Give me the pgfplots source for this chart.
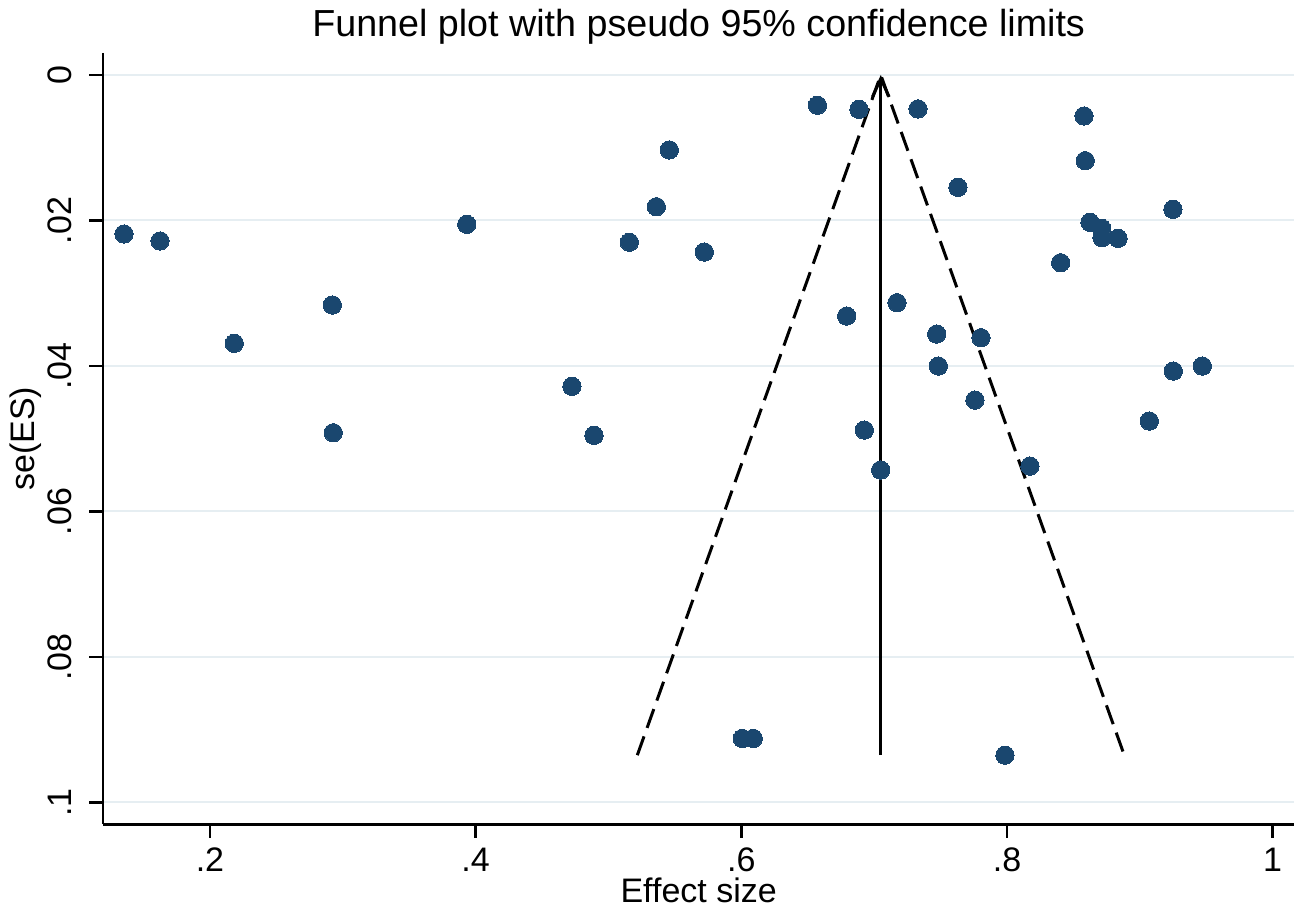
\documentclass[border=0pt]{standalone}
\usepackage{fontspec}
\setmainfont{Liberation Sans}
\usepackage{pgfplots}
\usepackage{pgfplotstable}
\pgfplotsset{compat=1.18}
\usetikzlibrary{arrows.meta}
\definecolor{statanavy}{RGB}{26,71,111}
\definecolor{gridc}{RGB}{230,238,242}

\pgfplotstableread{
x y
0.1353 0.02186
0.1624 0.02282
0.2183 0.03689
0.2921 0.03162
0.2928 0.04918
0.3933 0.02053
0.4725 0.04280
0.4891 0.04954
0.5157 0.02300
0.5360 0.01811
0.5458 0.01031
0.5721 0.02434
0.6007 0.09120
0.6090 0.09120
0.6573 0.00417
0.6793 0.03314
0.6886 0.00472
0.6926 0.04881
0.7049 0.05431
0.7172 0.03131
0.7330 0.00467
0.7471 0.03561
0.7483 0.04001
0.7631 0.01544
0.7759 0.04469
0.7804 0.03612
0.7985 0.09350
0.8173 0.05376
0.8404 0.02581
0.8580 0.00564
0.8589 0.01178
0.8625 0.02025
0.8713 0.02108
0.8715 0.02237
0.8836 0.02245
0.9249 0.01847
0.9252 0.04070
0.9470 0.04001
0.9071 0.04757
}\studies

\begin{document}
\begin{tikzpicture}
\path[use as bounding box] (-30.9pt,-27.51pt) rectangle (358.8pt,247.29pt);
\begin{axis}[
  at={(0,0)}, anchor=south west,
  scale only axis, width=357.39pt, height=231.39pt,
  xmin=0.11947, xmax=1.0163, ymin=-0.00302, ymax=0.1030,
  y dir=reverse,
  axis x line*=bottom, axis y line*=left,
  axis line style={line width=0.75pt, -, black},
  xtick={0.2,0.4,0.6,0.8,1}, xticklabels={.2,.4,.6,.8,1},
  ytick={0,0.02,0.04,0.06,0.08,0.1}, yticklabels={0,.02,.04,.06,.08,.1},
  tick align=outside, major tick length=4.1pt,
  tick style={line width=0.75pt, black},
  ymajorgrids, major grid style={line width=0.6pt, gridc},
  ticklabel style={font=\fontsize{10.2}{12}\selectfont},
  xticklabel style={anchor=north, inner sep=0pt, yshift=-2.7pt},
  yticklabel style={xshift=-5.3pt, rotate=90, anchor=base, inner sep=0pt},
  every axis title shift=0pt,
  title={Funnel plot with pseudo 95\% confidence limits},
  title style={at={(axis description cs:0.5,1)}, anchor=base, yshift=4.9pt, inner sep=0pt, font=\fontsize{11.3}{13}\selectfont},
  xlabel={Effect size},
  xlabel style={at={(axis description cs:0.5,0)}, anchor=base, yshift=-23.6pt, inner sep=0pt, font=\fontsize{10.2}{12}\selectfont},
  ylabel={se(ES)},
  ylabel style={at={(axis description cs:-0.0571,0.5)}, anchor=base, inner sep=0pt, font=\fontsize{10.2}{12}\selectfont},
  clip=false,
]
\addplot[statanavy, only marks, mark=*, mark size=2.75pt, mark options={fill=statanavy, draw=statanavy, line width=0pt}] table {\studies};
\addplot[line width=0.9pt, black, dash pattern=on 6pt off 2.7pt] coordinates {(0.5217,0.0935) (0.705,0) (0.8883,0.0935)};
\addplot[line width=0.9pt, black, -{Straight Barb[length=5.5pt,width=5pt,line width=0.9pt]}] coordinates {(0.705,0.0935) (0.705,0)};
\end{axis}
\end{tikzpicture}
\end{document}
